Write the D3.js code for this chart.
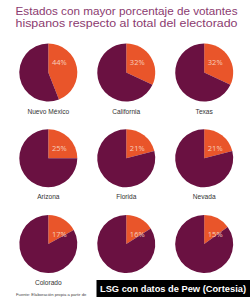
<!DOCTYPE html>
<html><head><meta charset="utf-8">
<script src="https://cdn.jsdelivr.net/npm/d3@7"></script>
<style>html,body{margin:0;padding:0;background:#fff;}</style>
</head><body>
<svg id="c" width="250" height="297"></svg>
<script>
const titleLines = ["Estados con mayor porcentaje de votantes", "hispanos respecto al total del electorado"];
// the last two state names are hidden under the credit box in the reference
const states = ["Nuevo México","California","Texas","Arizona","Florida","Nevada","Colorado"];
const shares = [44,32,32,25,21,21,17,16,15];
const footnote = "Fuente: Elaboración propia a partir de";
const credit = "LSG con datos de Pew (Cortesia)";

const svg = d3.select("#c");
const W = 250, H = 297;
svg.append("rect").attr("width",W).attr("height",H).attr("fill","#fff");

svg.append("g").selectAll("text").data(titleLines).join("text")
  .attr("x",15.5).attr("y",(d,i)=>14.6+i*12.2)
  .attr("fill","#8b3a6f").attr("font-family","'Liberation Sans', Arial, sans-serif")
  .attr("font-size",10.5).attr("textLength",222).attr("lengthAdjust","spacingAndGlyphs")
  .text(d=>d);

const col = d3.scalePoint().domain([0,1,2]).range([48.3,204.2]);
const row = d3.scalePoint().domain([0,1,2]).range([72.5,244]);
const r = 29;
const pie = d3.pie().sort(null).value(d=>d);
const arc = d3.arc().innerRadius(0).outerRadius(r);
const colors = ["#e9552a","#6a1141"];

const cells = svg.append("g").selectAll("g").data(shares).join("g")
  .attr("transform",(d,i)=>`translate(${col(i%3)},${row(Math.floor(i/3))})`);

cells.selectAll("path").data(d=>pie([d,100-d])).join("path")
  .attr("d",arc).attr("fill",(d,i)=>colors[i]);

cells.append("text").attr("x",11).attr("y",-7.5).attr("text-anchor","middle")
  .attr("fill","#f7cdbb").attr("font-family","'Open Sans', Lato, sans-serif")
  .attr("font-size",7.5).text(d=>d+"%");

cells.filter((d,i)=>i<states.length).append("text").attr("x",0).attr("y",r+12).attr("text-anchor","middle")
  .attr("fill","#333").attr("font-family","'Liberation Sans', Arial, sans-serif")
  .attr("font-size",6.6).text((d,i)=>states[i]);

svg.append("text").attr("x",16).attr("y",295.5).attr("fill","#444")
  .attr("font-family","'Liberation Sans', Arial, sans-serif").attr("font-size",4.2)
  .text(footnote);

svg.append("rect").attr("x",96.5).attr("y",280).attr("width",W-96.5).attr("height",17).attr("fill","#000");
svg.append("text").attr("x",100).attr("y",292.3).attr("fill","#fff")
  .attr("font-family","'Liberation Sans', Arial, sans-serif").attr("font-weight","bold")
  .attr("font-size",9.4).attr("textLength",146).attr("lengthAdjust","spacingAndGlyphs")
  .text(credit);
</script>
</body></html>
